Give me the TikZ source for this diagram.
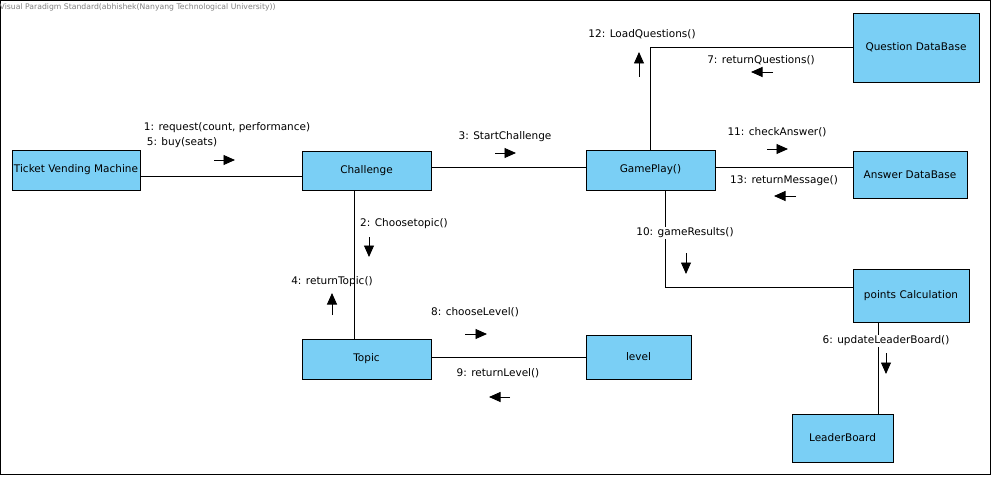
\documentclass[tikz,border=0pt]{standalone}
\usepackage{fontspec}
\setmainfont{DejaVu Sans}
\usetikzlibrary{arrows.meta}
\definecolor{boxblue}{RGB}{122,207,245}
\definecolor{titlegray}{RGB}{128,128,128}
\tikzset{
  obj/.style={draw, fill=boxblue, line width=0.9pt, inner sep=0pt, font=\fontsize{10.5}{12}\selectfont},
  lbl/.style={font=\fontsize{10.5}{12}\selectfont, inner sep=1pt},
  link/.style={line width=0.9pt},
  msg/.style={line width=0.9pt, -{Triangle[length=11.5pt,width=10pt]}}
}
\begin{document}
\begin{tikzpicture}[x=1pt,y=-1pt]
\useasboundingbox (0,0) rectangle (992,476);
\draw[line width=1pt] (0.5,0.5) rectangle (990.5,474.5);
\node[anchor=west, text=titlegray, font=\fontsize{7.7}{8}\selectfont, inner sep=0pt] (title) at (-0.5,7) {Visual Paradigm Standard(abhishek(Nanyang Technological University))};

% objects
\node[obj, minimum width=128, minimum height=40] (tvm) at (76,170) {Ticket Vending Machine};
\node[obj, minimum width=129, minimum height=39] (chal) at (366.5,170.5) {Challenge};
\node[obj, minimum width=129, minimum height=40] (game) at (650.5,170) {GamePlay()};
\node[obj, minimum width=126, minimum height=69] (qdb) at (916,47.5) {Question DataBase};
\node[obj, minimum width=114, minimum height=47] (adb) at (910,174.5) {Answer DataBase};
\node[obj, minimum width=116, minimum height=53] (pts) at (911,295.5) {points Calculation};
\node[obj, minimum width=101, minimum height=48] (lb) at (842.5,438) {LeaderBoard};
\node[obj, minimum width=129, minimum height=40] (topic) at (366.5,359) {Topic};
\node[obj, minimum width=105, minimum height=44] (level) at (638.5,357) {level};

% links
\draw[link] (tvm.east |- 0,176) -- (chal.west |- 0,176);
\draw[link] (chal.east |- 0,167) -- (game.west |- 0,167);
\draw[link] (game.east |- 0,167) -- (adb.west |- 0,167);
\draw[link] (game.north -| 650,0) |- (qdb.west);
\draw[link] (game.south -| 665,0) |- (pts.west |- 0,287);
\draw[link] (chal.south -| 354,0) -- (topic.north -| 354,0);
\draw[link] (topic.east |- 0,357) -- (level.west |- 0,357);
\draw[link] (pts.south -| 878,0) -- (lb.north -| 878,0);

% message labels
\node[lbl] (l1) at (227,128) {1: request(count, performance)};
\node[lbl] (l5) at (182,143) {5: buy(seats)};
\node[lbl] (l3) at (505,137) {3: StartChallenge};
\node[lbl] (l12) at (642,34) {12: LoadQuestions()};
\node[lbl] (l7) at (761,60) {7: returnQuestions()};
\node[lbl] (l11) at (777,132) {11: checkAnswer()};
\node[lbl] (l13) at (784,181) {13: returnMessage()};
\node[lbl, fill=white] (l10) at (685,233) {10: gameResults()};
\node[lbl] (l2) at (404,224) {2: Choosetopic()};
\node[lbl] (l4) at (332,282) {4: returnTopic()};
\node[lbl] (l8) at (475,312) {8: chooseLevel()};
\node[lbl] (l9) at (498,373) {9: returnLevel()};
\node[lbl, fill=white] (l6) at (886,341) {6: updateLeaderBoard()};

% message arrows
\coordinate (a1s) at (214,160); \coordinate (a1e) at (235,160);
\coordinate (a3s) at (495,153); \coordinate (a3e) at (516,153);
\coordinate (a12s) at (639,77); \coordinate (a12e) at (639,52);
\coordinate (a7s) at (773,72); \coordinate (a7e) at (751,72);
\coordinate (a11s) at (767,149); \coordinate (a11e) at (788,149);
\coordinate (a13s) at (796,196); \coordinate (a13e) at (774,196);
\coordinate (a10s) at (686,253); \coordinate (a10e) at (686,274);
\coordinate (a2s) at (369,237); \coordinate (a2e) at (369,257);
\coordinate (a4s) at (332,315); \coordinate (a4e) at (332,293);
\coordinate (a8s) at (465,334); \coordinate (a8e) at (487,334);
\coordinate (a9s) at (510,397); \coordinate (a9e) at (489,397);
\coordinate (a6s) at (886,353); \coordinate (a6e) at (886,374);
\foreach \m in {1,3,12,7,11,13,10,2,4,8,9,6}
  \draw[msg] (a\m s) -- (a\m e);
\end{tikzpicture}
\end{document}
